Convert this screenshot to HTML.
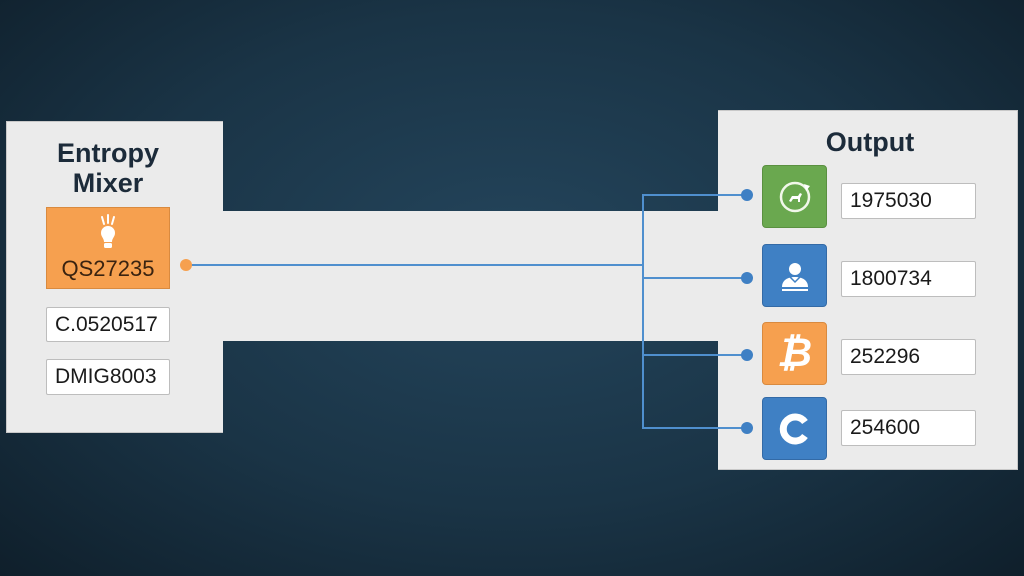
<!DOCTYPE html>
<html><head><meta charset="utf-8"><style>
*{margin:0;padding:0;box-sizing:border-box}
body{width:1024px;height:576px;overflow:hidden;position:relative;font-family:"Liberation Sans",sans-serif;
background:radial-gradient(ellipse at 50% 45%,#24455c 0%,#1a3446 55%,#0f1f2b 100%)}
.a{position:absolute}
.panel{background:#ebebeb;border:1px solid #c8c8c8}
.box{position:absolute;background:#fff;border:1px solid #bdbdbd;border-radius:2px;font-size:21px;color:#1a1a1a;display:flex;align-items:center;padding-left:8px}
.icon{position:absolute;width:65px;height:63px;border-radius:4px;display:flex;align-items:center;justify-content:center}
.t{position:absolute;font-weight:bold;color:#1c2b3a;text-align:center}
</style></head><body>
<div class="a" style="left:222px;top:211px;width:497px;height:130px;background:#ebebeb"></div>
<div class="a panel" style="left:6px;top:121px;width:217px;height:312px;border-right:none"></div>
<div class="a panel" style="left:718px;top:110px;width:300px;height:360px;border-left:none"></div>
<div class="t" style="left:30px;top:138px;width:156px;font-size:27px;line-height:30px">Entropy<br>Mixer</div>
<div class="a" style="left:46px;top:207px;width:124px;height:82px;background:#f6a04f;border:1px solid #d98a3f"></div>
<svg class="a" style="left:94px;top:213px" width="28" height="40" viewBox="0 0 28 40">
<g stroke="#fff" stroke-width="2" stroke-linecap="round"><line x1="8" y1="4" x2="10" y2="11"/><line x1="14" y1="2" x2="14" y2="10"/><line x1="20" y1="4" x2="18" y2="11"/></g>
<path d="M7 20a7 7 0 0 1 14 0c0 4-3 5-3 9h-8c0-4-3-5-3-9z" fill="#fff"/><rect x="10" y="30" width="8" height="5" rx="1.5" fill="#fff"/></svg>
<div class="a" style="left:46px;top:256px;width:124px;text-align:center;font-size:22px;color:#3a2310">QS27235</div>
<div class="box" style="left:46px;top:307px;width:124px;height:35px">C.0520517</div>
<div class="box" style="left:46px;top:359px;width:124px;height:36px">DMIG8003</div>
<svg class="a" style="left:0;top:0" width="1024" height="576">
<g stroke="#4f8fce" stroke-width="2" fill="none">
<line x1="186" y1="265" x2="643" y2="265"/>
<polyline points="747,195 643,195 643,428 747,428"/>
<line x1="643" y1="278" x2="747" y2="278"/>
<line x1="643" y1="355" x2="747" y2="355"/>
</g>
<circle cx="186" cy="265" r="6" fill="#f6a04f"/>
<g fill="#3f80c4"><circle cx="747" cy="195" r="6"/><circle cx="747" cy="278" r="6"/><circle cx="747" cy="355" r="6"/><circle cx="747" cy="428" r="6"/></g>
</svg>
<div class="t" style="left:780px;top:127px;width:180px;font-size:27px">Output</div>
<div class="icon" style="left:762px;top:165px;background:#6aa84f;border:1px solid #5a9040">
<svg width="40" height="40" viewBox="0 0 40 40"><circle cx="20" cy="20" r="14" stroke="#f1f7ea" stroke-width="2.5" fill="none"/><path d="M29 7l6 2-4 5z" fill="#fff"/><path d="M14 24l3-5h6l2-3 2 1-2 4v4h-2v-3h-5l-2 3z" fill="#fff"/></svg></div>
<div class="icon" style="left:762px;top:244px;background:#3f80c4;border:1px solid #336aa6">
<svg width="40" height="40" viewBox="0 0 40 40"><circle cx="20" cy="13" r="6" fill="#fff"/><path d="M7 31c0-7 6-10 13-10s13 3 13 10z" fill="#fff"/><path d="M15 21l5 5 5-5" stroke="#3f80c4" stroke-width="1.5" fill="none"/><rect x="7" y="33" width="26" height="2" fill="#fff"/></svg></div>
<div class="icon" style="left:762px;top:322px;background:#f6a04f;border:1px solid #d98a3f;color:#fff;font-size:40px;font-weight:bold;font-style:italic">₿</div>
<div class="icon" style="left:762px;top:397px;background:#3f80c4;border:1px solid #336aa6">
<svg width="40" height="40" viewBox="0 0 40 40"><path d="M30 13a12 12 0 1 0 0 14" stroke="#fff" stroke-width="7" fill="none"/></svg></div>
<div class="box" style="left:841px;top:183px;width:135px;height:36px">1975030</div>
<div class="box" style="left:841px;top:261px;width:135px;height:36px">1800734</div>
<div class="box" style="left:841px;top:339px;width:135px;height:36px">252296</div>
<div class="box" style="left:841px;top:410px;width:135px;height:36px">254600</div>
</body></html>
